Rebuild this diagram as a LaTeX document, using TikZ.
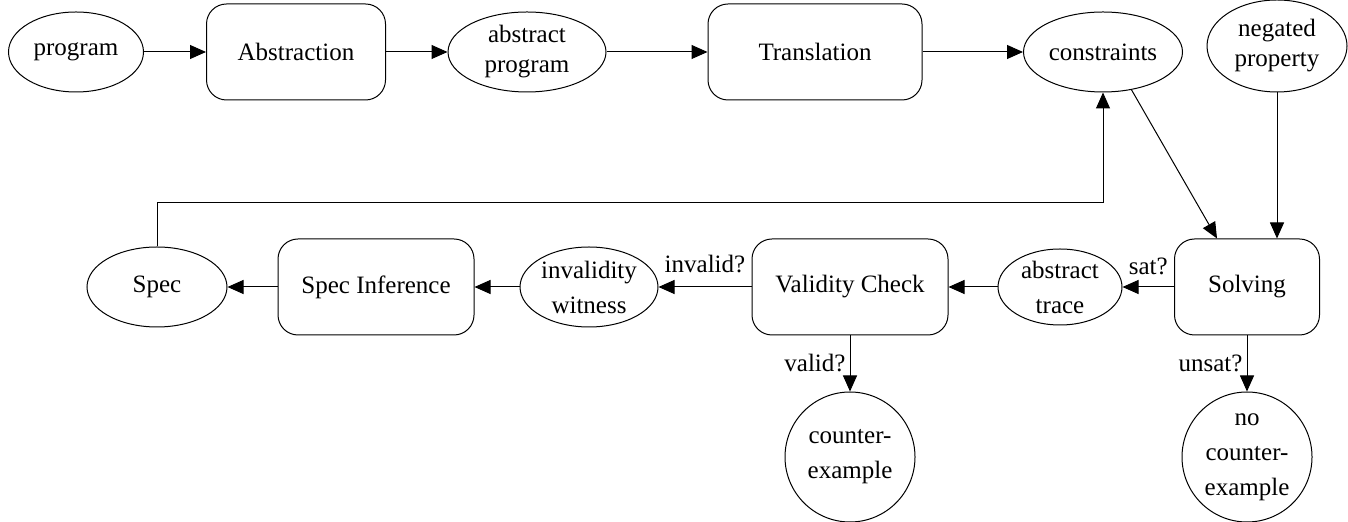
\documentclass[tikz,border=0pt]{standalone}
\usepackage{fontspec}
\setmainfont{Liberation Serif}
\usetikzlibrary{shapes.geometric, arrows.meta, calc}

\tikzset{
  proc/.style={draw, rounded corners=10pt, inner sep=0pt, minimum height=48pt, align=center},
  data/.style={draw, ellipse, inner sep=0pt, align=center},
  flow/.style={-{Triangle[length=8pt, width=7pt]}},
  lowrow/.style={font=\fontsize{12.5}{17.5}\selectfont},
  edgelabel/.style={inner sep=2pt},
}

\begin{document}
\begin{tikzpicture}[x=0.5pt, y=-0.5pt, line width=0.5pt, every node/.style={font=\fontsize{12.5}{15}\selectfont}]

    \useasboundingbox (0,0) rectangle (1348,522);

    % Top row: from the program to the constraints
    \node[data, minimum width=67.5pt, minimum height=40pt] (prog) at (76,52) {program};
    \node[proc, minimum width=89.5pt] (abstr) at (296,52) {Abstraction};
    \node[data, minimum width=79pt, minimum height=40pt] (absprog) at (527,52) {abstract\\program};
    \node[proc, minimum width=107pt] (transl) at (815,52) {Translation};
    \node[data, minimum width=79.5pt, minimum height=40pt] (constr) at (1103,52) {constraints};
    \node[data, minimum width=70pt, minimum height=46pt] (negprop) at (1277,46) {negated\\property};

    % Bottom row: from Solving back to the spec
    \node[proc, minimum width=72.5pt] (solv) at (1247,287) {Solving};
    \node[data, lowrow, minimum width=62pt, minimum height=38pt] (trace) at (1060,287) {abstract\\trace};
    \node[proc, minimum width=98pt] (valid) at (850,287) {Validity Check};
    \node[data, lowrow, minimum width=69pt, minimum height=40pt] (witness) at (589,287) {invalidity\\witness};
    \node[proc, minimum width=98pt] (specinf) at (376,287) {Spec Inference};
    \node[data, minimum width=70pt, minimum height=40pt] (spec) at (157,287) {Spec};

    % Outcomes
    \node[data, lowrow, minimum size=65pt] (cex) at (850,457) {counter-\\example};
    \node[data, lowrow, minimum size=65pt] (nocex) at (1247,457) {no\\counter-\\example};

    % Top row arrows
    \draw[flow] (prog) -- (abstr);
    \draw[flow] (abstr) -- (absprog);
    \draw[flow] (absprog) -- (transl);
    \draw[flow] (transl) -- (constr);

    % Into the solver
    \draw[flow] (constr.-53) -- ($(solv.north west)+(43,0)$);
    \draw[flow] (negprop.south) -- (negprop.south |- solv.north);

    % Bottom row arrows
    \draw[flow] (solv) -- node[above, edgelabel, yshift=4pt] {sat?} (trace);
    \draw[flow] (trace) -- (valid);
    \draw[flow] (valid) -- node[above, edgelabel, yshift=5pt] {invalid?} (witness);
    \draw[flow] (witness) -- (specinf);
    \draw[flow] (specinf) -- (spec);
    \draw[flow] (valid) -- node[left, edgelabel] {valid?} (cex);
    \draw[flow] (solv) -- node[left, edgelabel] {unsat?} (nocex);

    % Feedback from the spec to the constraints
    \coordinate (loop) at (0,203);
    \draw[flow] (spec.north) -- (spec.north |- loop) -| (constr.south);

\end{tikzpicture}
\end{document}
